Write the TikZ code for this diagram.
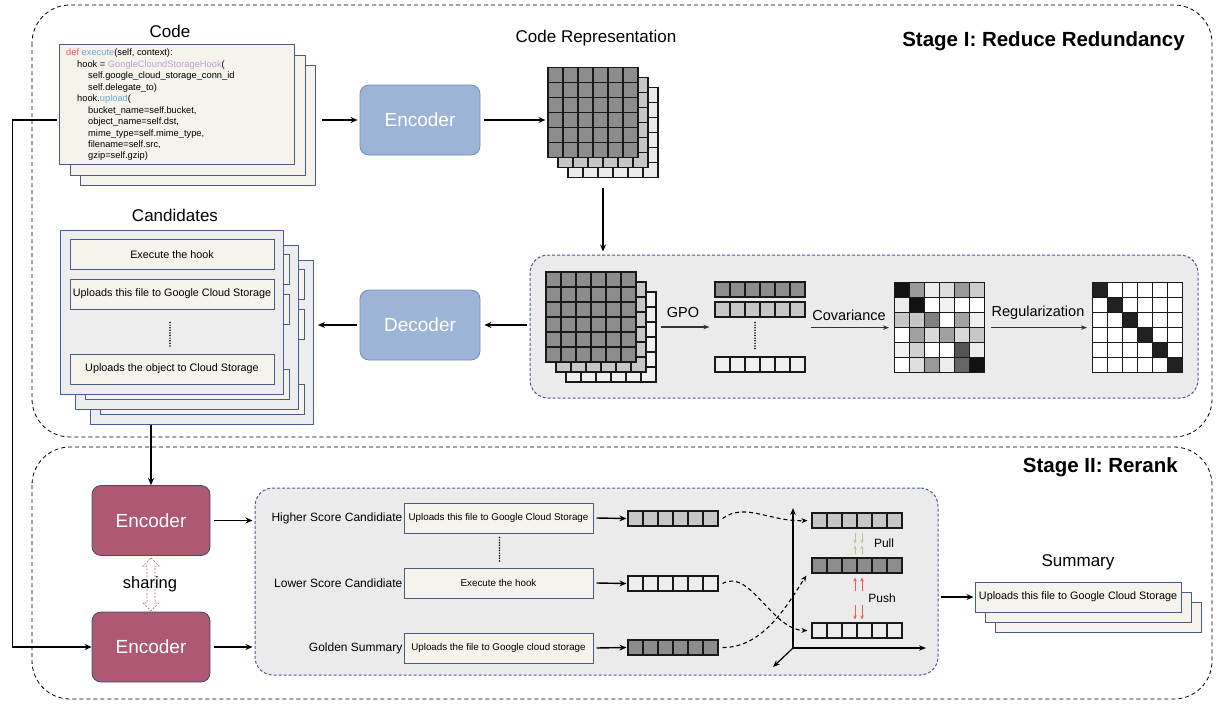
\documentclass[tikz,border=0pt]{standalone}
\usepackage{fontspec}
\setmainfont{Liberation Sans}
\usetikzlibrary{arrows.meta, positioning, calc}
\definecolor{encblue}{HTML}{9EB4D6}
\definecolor{encblueline}{HTML}{6C8EBF}
\definecolor{encred}{HTML}{AE5873}
\definecolor{encredline}{HTML}{3B4E78}
\definecolor{cream}{HTML}{F6F2EC}
\definecolor{boxline}{HTML}{4A5C80}
\definecolor{candgray}{HTML}{EDEDED}
\definecolor{candline}{HTML}{4A5C9A}
\definecolor{panelgray}{HTML}{EBEBEB}
\definecolor{panelline}{HTML}{4A5A9A}
\definecolor{codered}{HTML}{E8604C}
\definecolor{codeblue}{HTML}{6FA8DC}
\definecolor{codelav}{HTML}{B4A7D6}
\definecolor{pullgreen}{HTML}{B5C98E}
\definecolor{pushred}{HTML}{E8604C}
\definecolor{sharecol}{HTML}{B07888}

\begin{document}
\begin{tikzpicture}[
    x=1pt, y=-1pt,
    stage/.style={draw=black, dash pattern=on 4pt off 3pt, line width=0.8pt, rounded corners=38pt},
    panel/.style={rectangle, draw=panelline, fill=panelgray, dash pattern=on 3pt off 2pt, line width=1pt, rounded corners=18pt},
    title/.style={font=\fontsize{17}{17}\selectfont, inner sep=0pt},
    stagetitle/.style={font=\fontsize{20.5}{20.5}\selectfont\bfseries, inner sep=0pt, anchor=east},
    steplabel/.style={font=\fontsize{14.5}{14.5}\selectfont, inner sep=0pt},
    lbl/.style={font=\fontsize{12}{12}\selectfont, inner sep=1pt},
    encbox/.style={rectangle, rounded corners=9pt, draw=encblueline, fill=encblue, line width=0.8pt, minimum width=120pt, minimum height=70pt, text=white, font=\fontsize{19}{19}\selectfont},
    rencbox/.style={encbox, draw=encredline, fill=encred, minimum width=118pt},
    codebox/.style={rectangle, draw=boxline, fill=cream, line width=1pt, minimum width=235pt, minimum height=120pt},
    candbox/.style={rectangle, draw=candline, fill=candgray, line width=1pt, minimum width=223pt, minimum height=164pt},
    sentbox/.style={rectangle, draw=boxline, fill=cream, line width=1pt, minimum width=204pt, minimum height=30pt, inner xsep=1pt, font=\fontsize{10.8}{12}\selectfont},
    pairbox/.style={sentbox, minimum width=189pt, font=\fontsize{9.8}{11}\selectfont},
    mat/.style={rectangle, draw=black!90, line width=1.2pt, inner sep=0pt, minimum width=90pt, minimum height=90pt,
        path picture={\foreach \k in {1,...,5}{
            \draw[black!90, line width=1.2pt] ($(path picture bounding box.north west)!\k/6!(path picture bounding box.north east)$) -- ($(path picture bounding box.south west)!\k/6!(path picture bounding box.south east)$);
            \draw[black!90, line width=1.2pt] ($(path picture bounding box.north west)!\k/6!(path picture bounding box.south west)$) -- ($(path picture bounding box.north east)!\k/6!(path picture bounding box.south east)$);}}},
    vec/.style={rectangle, draw=black!90, line width=1.1pt, inner sep=0pt, minimum width=90pt, minimum height=15pt,
        path picture={\foreach \k in {1,...,5}{
            \draw[black!90, line width=1.1pt] ($(path picture bounding box.north west)!\k/6!(path picture bounding box.north east)$) -- ($(path picture bounding box.south west)!\k/6!(path picture bounding box.south east)$);}}},
    arrow/.style={-{Stealth[length=7pt, width=6pt]}, line width=1.4pt, black},
    thinarrow/.style={-{Stealth[length=6pt, width=4.5pt]}, line width=1.2pt, black!80},
    dasharrow/.style={-{Stealth[length=6pt, width=5pt]}, dash pattern=on 4pt off 3pt, line width=1.1pt, black},
    axis/.style={-{Stealth[length=7pt, width=5.5pt]}, line width=1.2pt, black},
    pullarrow/.style={-{Stealth[length=4pt, width=3.5pt]}, line width=0.9pt, pullgreen},
    pusharrow/.style={-{Stealth[length=4pt, width=3.5pt]}, line width=0.9pt, pushred},
    dotline/.style={dash pattern=on 0pt off 2.6pt, line cap=round, line width=1.7pt, black}
]
\useasboundingbox (0,0) rectangle (1218,704);

% Stage frames
\draw[stage] (32,5) rectangle (1212,437);
\draw[stage] (32,447) rectangle (1212,699);
\node[stagetitle] (stageone) at (1185,41) {Stage I: Reduce Redundancy};
\node[stagetitle] (stagetwo) at (1178,467) {Stage II: Rerank};

% Code
\node[title] (codettl) at (170,31) {Code};
\node[codebox] (code3) at (197.5,125) {};
\node[codebox] (code2) at (187.5,115) {};
\node[codebox] (code) at (176.5,104) {};
\node[anchor=north west, align=left, inner sep=0pt, font=\fontsize{9.3}{11.45}\selectfont] (src) at (66,49) {%
{\color{codered}def} {\color{codeblue}execute}(self, context):\\
\hspace*{11pt}hook = {\color{codelav}GoogleCloundStorageHook}(\\
\hspace*{22pt}self.google\_cloud\_storage\_conn\_id\\
\hspace*{22pt}self.delegate\_to)\\
\hspace*{11pt}hook.{\color{codeblue}upload}(\\
\hspace*{22pt}bucket\_name=self.bucket,\\
\hspace*{22pt}object\_name=self.dst,\\
\hspace*{22pt}mime\_type=self.mime\_type,\\
\hspace*{22pt}filename=self.src,\\
\hspace*{22pt}gzip=self.gzip)};

% Encoder / Decoder
\node[encbox] (encA) at (420,120) {Encoder};
\node[encbox] (dec) at (420,325) {Decoder};

% Code representation
\node[title] (repttl) at (596,38) {Code Representation};
\foreach \d/\c/\nm in {20/black!8/rep3, 10/black!22/rep2, 0/black!45/rep}
    \node[mat, fill=\c] (\nm) at (593+\d,112.5+\d) {};

% GPO panel
\node[panel, minimum width=668pt, minimum height=143pt] (gpo) at (864,326.5) {};
\foreach \d/\c/\nm in {20/black!6/pg3, 10/black!22/pg2, 0/black!45/pg}
    \node[mat, fill=\c] (\nm) at (591+\d,317+\d) {};
\node[vec, fill=black!45] (v1) at (760,289.5) {};
\node[vec, fill=black!22] (v2) at (760,309.5) {};
\node[vec, fill=black!6] (v3) at (760,364.5) {};
\draw[dotline] ([xshift=-5pt, yshift=-5pt]v2.south) -- ([xshift=-5pt, yshift=7pt]v3.north);

\coordinate (covnw) at (894,282);
\foreach \row [count=\i from 0] in {{93,40,7,13,40,20},{7,93,0,5,0,0},{22,22,50,0,37,6},{0,37,15,37,15,22},{5,18,0,0,67,7},{0,13,40,7,60,93}}
    \foreach \c [count=\j from 0] in \row
        \fill[black!\c] ($(covnw)+(15*\j,15*\i)$) rectangle ++(15,15);
\node[mat, anchor=north west] (cov) at (covnw) {};

\coordinate (regnw) at (1092,282);
\fill[white] (regnw) rectangle ++(90,90);
\foreach \k in {0,...,5}
    \fill[black!87] ($(regnw)+(15*\k,15*\k)$) rectangle ++(15,15);
\node[mat, anchor=north west] (reg) at (regnw) {};

\node[steplabel] (gpolbl) at (683,313) {GPO};
\node[steplabel] (covlbl) at (849,315) {Covariance};
\node[steplabel] (reglbl) at (1038,313) {Regularization};
\draw[thinarrow] ([xshift=4pt]pg2.east -| pg3.east) -- ([xshift=-5pt]pg2.east -| v1.west);
\draw[thinarrow] ([xshift=5pt]v1.east |- cov.west) -- ([xshift=-5pt]cov.west);
\draw[thinarrow] ([xshift=6pt]cov.east) -- ([xshift=-5pt]reg.west);

% Candidates
\node[title] (candttl) at (175,215) {Candidates};
\foreach \d/\nm in {30/cand3, 15/cand2}{
    \node[candbox] (\nm) at (172+\d,312+\d) {};
    \node[sentbox] (\nm-a) at (172+\d,254.5+\d) {};
    \node[sentbox] (\nm-b) at (172+\d,294+\d) {};
    \node[sentbox] (\nm-c) at (172+\d,369+\d) {};
}
\node[candbox] (cand) at (172,312) {};
\node[sentbox] (c1) at (172,254.5) {Execute the hook};
\node[sentbox] (c2) at (172,294) {Uploads this file to Google Cloud Storage};
\node[sentbox] (c3) at (172,369) {Uploads the object to Cloud Storage};
\draw[dotline] ([xshift=-2pt, yshift=-13pt]c2.south) -- ([xshift=-2pt, yshift=6pt]c3.north);

% Stage I arrows
\draw[arrow] ([xshift=6pt]code3.east |- encA.west) -- ([xshift=-2pt]encA.west);
\draw[arrow] ([xshift=4pt]encA.east) -- ([xshift=-2pt]encA.east -| rep.west);
\draw[arrow] ([yshift=-10pt]rep3.south -| rep2.south) -- ([yshift=3pt]rep2.south |- gpo.north);
\draw[arrow] ([xshift=-3pt]gpo.west |- dec.east) -- ([xshift=4pt]dec.east);
\draw[arrow] ([xshift=-3pt]dec.west) -- ([xshift=4pt]dec.west -| cand3.east);

% Stage II encoders
\node[rencbox] (encB) at (151,520.5) {Encoder};
\node[rencbox] (encC) at (151,647) {Encoder};
\draw[sharecol, dash pattern=on 2pt off 1.5pt, line width=0.8pt] ([yshift=-2pt]encB.south) -- ++(8,8) -- ++(-4,0) -- ++(0,37) -- ++(4,0) -- ++(-8,8) -- ++(-8,-8) -- ++(4,0) -- ++(0,-37) -- ++(-4,0) -- cycle;
\node[font=\fontsize{16.5}{16.5}\selectfont, inner sep=0pt] (sharelbl) at (150,584) {sharing};

\draw[arrow] ([xshift=-2pt]code.west |- encA.west) -- ++(-44,0) |- (encC.west);
\draw[arrow] (cand3.south -| encB.north) -- (encB.north);

% Rerank panel
\node[panel, minimum width=683pt, minimum height=187pt] (rerank) at (596.5,581.5) {};
\draw[arrow] ([xshift=4pt]encB.east) -- ([xshift=-2pt]encB.east -| rerank.west);
\draw[arrow] ([xshift=4pt]encC.east) -- ([xshift=-2pt]encC.east -| rerank.west);

\node[pairbox] (hbox) at (498.5,518) {Uploads this file to Google Cloud Storage};
\node[pairbox] (lbox) at (498.5,583) {Execute the hook};
\node[pairbox] (gbox) at (498.5,648) {Uploads the file to Google cloud storage};
\node[lbl, left=0pt of hbox] (hlbl) {Higher Score Candidiate};
\node[lbl, left=0pt of lbox] (llbl) {Lower Score Candidiate};
\node[lbl, left=0pt of gbox] (glbl) {Golden Summary};
\draw[dotline] ([xshift=1pt, yshift=-4pt]hbox.south) -- ([xshift=1pt, yshift=4pt]lbox.north);

\node[vec, fill=black!22] (hv) at (673,518.5) {};
\node[vec, fill=black!7] (lv) at (673,583.5) {};
\node[vec, fill=black!45] (gv) at (673,647.5) {};
\draw[arrow] ([xshift=3pt]hbox.east) -- ([xshift=-1pt]hv.west);
\draw[arrow] ([xshift=3pt]lbox.east) -- ([xshift=-1pt]lv.west);
\draw[arrow] ([xshift=3pt]gbox.east) -- ([xshift=-1pt]gv.west);

% Embedding space
\coordinate (orig) at (793,648);
\coordinate (ytop) at (793,508);
\coordinate (xend) at (926,648);
\coordinate (zend) at (773,667);
\draw[axis] (orig) -- (ytop);
\draw[axis] (orig) -- (xend);
\draw[axis] (orig) -- (zend);

\node[vec, fill=black!22] (tv) at (857,520.5) {};
\node[vec, fill=black!45] (mv) at (857,565.5) {};
\node[vec, fill=black!7] (bv) at (857,630.5) {};

\draw[dasharrow] ([xshift=4pt]hv.east) .. controls (745,502) and (770,522) .. ([xshift=-4pt]tv.west);
\draw[dasharrow] ([xshift=4pt]lv.east) .. controls (750,568) and (772,630) .. ([xshift=-4pt]bv.west);
\draw[dasharrow] ([xshift=4pt]gv.east) .. controls (765,648) and (790,600) .. ([xshift=-5pt, yshift=-2pt]mv.south west);

\foreach \s in {-2,5}{
    \draw[pullarrow] ([xshift=\s pt, yshift=-4pt]tv.south) -- ++(0,11);
    \draw[pullarrow] ([xshift=\s pt, yshift=3pt]mv.north) -- ++(0,-9);
    \draw[pusharrow] ([xshift=\s pt, yshift=-17pt]mv.south) -- ([xshift=\s pt, yshift=-4pt]mv.south);
    \draw[pusharrow] ([xshift=\s pt, yshift=17pt]bv.north) -- ([xshift=\s pt, yshift=3pt]bv.north);
}
\node[lbl] (pulllbl) at (884,543) {Pull};
\node[lbl] (pushlbl) at (882,598) {Push};

% Summary
\node[title] (sumttl) at (1078,562) {Summary};
\node[sentbox, minimum width=206pt] (sum3) at (1098,617) {};
\node[sentbox, minimum width=206pt] (sum2) at (1088,607) {};
\node[sentbox, minimum width=206pt] (sum) at (1078,597) {Uploads this file to Google Cloud Storage};
\draw[arrow] ([xshift=2pt]rerank.east |- sum.west) -- ([xshift=-1pt]sum.west);

\end{tikzpicture}
\end{document}
